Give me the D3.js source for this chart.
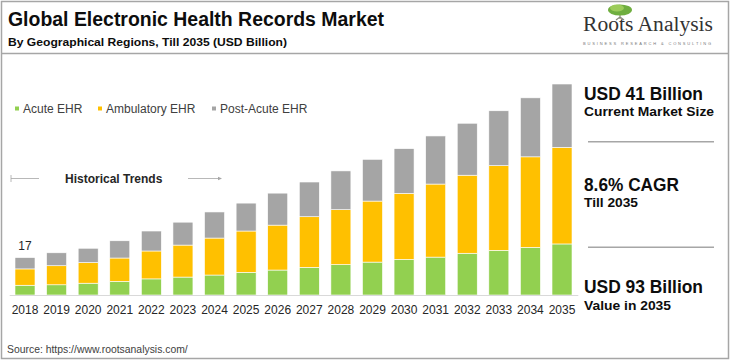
<!DOCTYPE html>
<html>
<head>
<meta charset="utf-8">
<script src="https://cdn.jsdelivr.net/npm/d3@7"></script>
<style>
  body { margin: 0; background: #fff; }
  svg text { font-family: "Liberation Sans", Arial, sans-serif; }
</style>
</head>
<body>
<svg id="chart" width="731" height="363"></svg>
<script>
// data (USD billion)
var years = ["2018","2019","2020","2021","2022","2023","2024","2025","2026",
             "2027","2028","2029","2030","2031","2032","2033","2034","2035"];
var acute      = [4.3, 4.5, 5.2, 6.0, 7.1, 7.9, 8.8, 10.0, 11.0, 12.2, 13.4, 14.5, 15.7, 16.7, 18.4, 19.7, 21.0, 22.5];
var ambulatory = [7.2, 8.4, 9.1, 10.3, 12.3, 14.1, 16.3, 18.2, 19.8, 22.3, 24.2, 26.9, 29.1, 32.2, 34.4, 37.3, 39.9, 42.6];
var postAcute  = [5.0, 5.7, 6.3, 7.6, 8.8, 10.1, 11.5, 12.3, 14.1, 15.3, 17.1, 18.4, 19.7, 21.2, 22.9, 24.2, 26.0, 27.9];
var seriesNames = ["Acute EHR", "Ambulatory EHR", "Post-Acute EHR"];
var seriesColors = ["#92D050", "#FFC000", "#A5A5A5"];
var firstLabel = "17";

var svg = d3.select("#chart");

// frame
svg.append("rect")
  .attr("x", 1.5).attr("y", 1.5).attr("width", 727).attr("height", 357)
  .attr("fill", "none").attr("stroke", "#a6a6a6").attr("stroke-width", 1.5);
svg.append("line")
  .attr("x1", 1.5).attr("x2", 728.5).attr("y1", 53.5).attr("y2", 53.5)
  .attr("stroke", "#a6a6a6").attr("stroke-width", 1.5);

// header
svg.append("text")
  .attr("x", 8).attr("y", 26)
  .attr("textLength", 376).attr("lengthAdjust", "spacingAndGlyphs")
  .style("font-size", "20px").style("font-weight", "bold").attr("fill", "#0d0d0d")
  .text("Global Electronic Health Records Market");
svg.append("text")
  .attr("x", 8).attr("y", 45.5)
  .attr("textLength", 279).attr("lengthAdjust", "spacingAndGlyphs")
  .style("font-size", "11px").style("font-weight", "bold").attr("fill", "#0d0d0d")
  .text("By Geographical Regions, Till 2035 (USD Billion)");

// logo
var logo = svg.append("g");
logo.append("path")
  .attr("d", "M620,12 L620,19 M620,17 L616,20 M620,17 L624,20")
  .attr("stroke", "#8a8a7a").attr("stroke-width", 1.2).attr("fill", "none");
logo.append("ellipse").attr("cx", 620).attr("cy", 10).attr("rx", 12).attr("ry", 5.5).attr("fill", "#6fae3f");
logo.append("ellipse").attr("cx", 617).attr("cy", 8).attr("rx", 7).attr("ry", 3.5).attr("fill", "#9ccc5a");
logo.append("text")
  .attr("x", 583).attr("y", 31)
  .attr("textLength", 130).attr("lengthAdjust", "spacingAndGlyphs")
  .style("font-family", "'Liberation Serif', 'DejaVu Serif', serif")
  .style("font-size", "20px").attr("fill", "#333")
  .text("Roots Analysis");
logo.append("text")
  .attr("x", 583).attr("y", 44.5)
  .attr("textLength", 128).attr("lengthAdjust", "spacing")
  .style("font-size", "4px").attr("fill", "#777")
  .text("BUSINESS RESEARCH & CONSULTING");

// scales
var x = d3.scaleBand().domain(years).range([9.2, 577.8])
  .paddingInner(0.367).paddingOuter(0.1835);
var y = d3.scaleLinear().domain([0, 93]).range([295, 84]);

var table = years.map(function(yr, i) {
  return { year: yr, "Acute EHR": acute[i], "Ambulatory EHR": ambulatory[i], "Post-Acute EHR": postAcute[i] };
});
var stacked = d3.stack().keys(seriesNames)(table);

svg.append("g")
  .selectAll("g")
  .data(stacked)
  .enter().append("g")
    .attr("fill", function(d, i) { return seriesColors[i]; })
  .selectAll("rect")
  .data(function(d) { return d; })
  .enter().append("rect")
    .attr("x", function(d) { return x(d.data.year); })
    .attr("width", x.bandwidth())
    .attr("y", function(d) { return y(d[1]); })
    .attr("height", function(d) { return y(d[0]) - y(d[1]); })
    .attr("stroke", "#fff").attr("stroke-width", 0.6);

// x axis
var xAxis = svg.append("g")
  .attr("transform", "translate(0,295)")
  .call(d3.axisBottom(x).tickSize(0).tickPadding(10));
xAxis.select(".domain").attr("stroke", "#d9d9d9");
xAxis.selectAll("text")
  .style("font-family", "'Liberation Sans', Arial, sans-serif")
  .style("font-size", "12px").attr("fill", "#262626");

// label on first bar
svg.append("text")
  .attr("x", x(years[0]) + x.bandwidth() / 2)
  .attr("y", y(acute[0] + ambulatory[0] + postAcute[0]) - 7.5)
  .attr("text-anchor", "middle")
  .style("font-size", "12px").attr("fill", "#262626")
  .text(firstLabel);

// legend
var legendX = [14, 97, 211];
var legend = svg.append("g").selectAll("g")
  .data(seriesNames).enter().append("g")
  .attr("transform", function(d, i) { return "translate(" + legendX[i] + ",0)"; });
legend.append("rect")
  .attr("x", 1).attr("y", 106.5).attr("width", 4).attr("height", 4)
  .attr("fill", function(d, i) { return seriesColors[i]; });
legend.append("text")
  .attr("x", 9).attr("y", 113)
  .style("font-size", "12px").attr("fill", "#404040")
  .text(function(d) { return d; });

// historical trends marker
svg.append("line").attr("x1", 11).attr("x2", 11).attr("y1", 175).attr("y2", 182)
  .attr("stroke", "#a6a6a6").attr("stroke-width", 0.8);
svg.append("line").attr("x1", 11).attr("x2", 39).attr("y1", 178.5).attr("y2", 178.5)
  .attr("stroke", "#a6a6a6").attr("stroke-width", 0.8);
svg.append("line").attr("x1", 188).attr("x2", 220).attr("y1", 178.5).attr("y2", 178.5)
  .attr("stroke", "#a6a6a6").attr("stroke-width", 0.8);
svg.append("path").attr("d", "M218,176.8 L222,178.5 L218,180.2 Z").attr("fill", "#a6a6a6");
svg.append("text")
  .attr("x", 65).attr("y", 183)
  .style("font-size", "12px").style("font-weight", "bold").attr("fill", "#262626")
  .text("Historical Trends");

// right panel
var panelBig = ["USD 41 Billion", "8.6% CAGR", "USD 93 Billion"];
var panelSmall = ["Current Market Size", "Till 2035", "Value in 2035"];
var panelBigY = [100, 190.5, 293];
var panelSmallY = [115.5, 207, 310];
var panelBigW = [119, 95, 119];
var panelSmallW = [130, 54, 87];
var panel = svg.append("g");
panel.selectAll("text.big").data(panelBig).enter().append("text")
  .attr("class", "big")
  .attr("x", 584).attr("y", function(d, i) { return panelBigY[i]; })
  .attr("textLength", function(d, i) { return panelBigW[i]; })
  .attr("lengthAdjust", "spacingAndGlyphs")
  .style("font-size", "17.5px").style("font-weight", "bold").attr("fill", "#0d0d0d")
  .text(function(d) { return d; });
panel.selectAll("text.small").data(panelSmall).enter().append("text")
  .attr("class", "small")
  .attr("x", 584).attr("y", function(d, i) { return panelSmallY[i]; })
  .attr("textLength", function(d, i) { return panelSmallW[i]; })
  .attr("lengthAdjust", "spacingAndGlyphs")
  .style("font-size", "13px").style("font-weight", "bold").attr("fill", "#0d0d0d")
  .text(function(d) { return d; });
panel.selectAll("line").data([141.7, 247.3]).enter().append("line")
  .attr("x1", 588).attr("x2", 714)
  .attr("y1", function(d) { return d; }).attr("y2", function(d) { return d; })
  .attr("stroke", "#a6a6a6").attr("stroke-width", 1.5);

// source
svg.append("text")
  .attr("x", 7).attr("y", 352.5)
  .style("font-size", "10.4px").attr("fill", "#404040")
  .text("Source: https://www.rootsanalysis.com/");
</script>
</body>
</html>
